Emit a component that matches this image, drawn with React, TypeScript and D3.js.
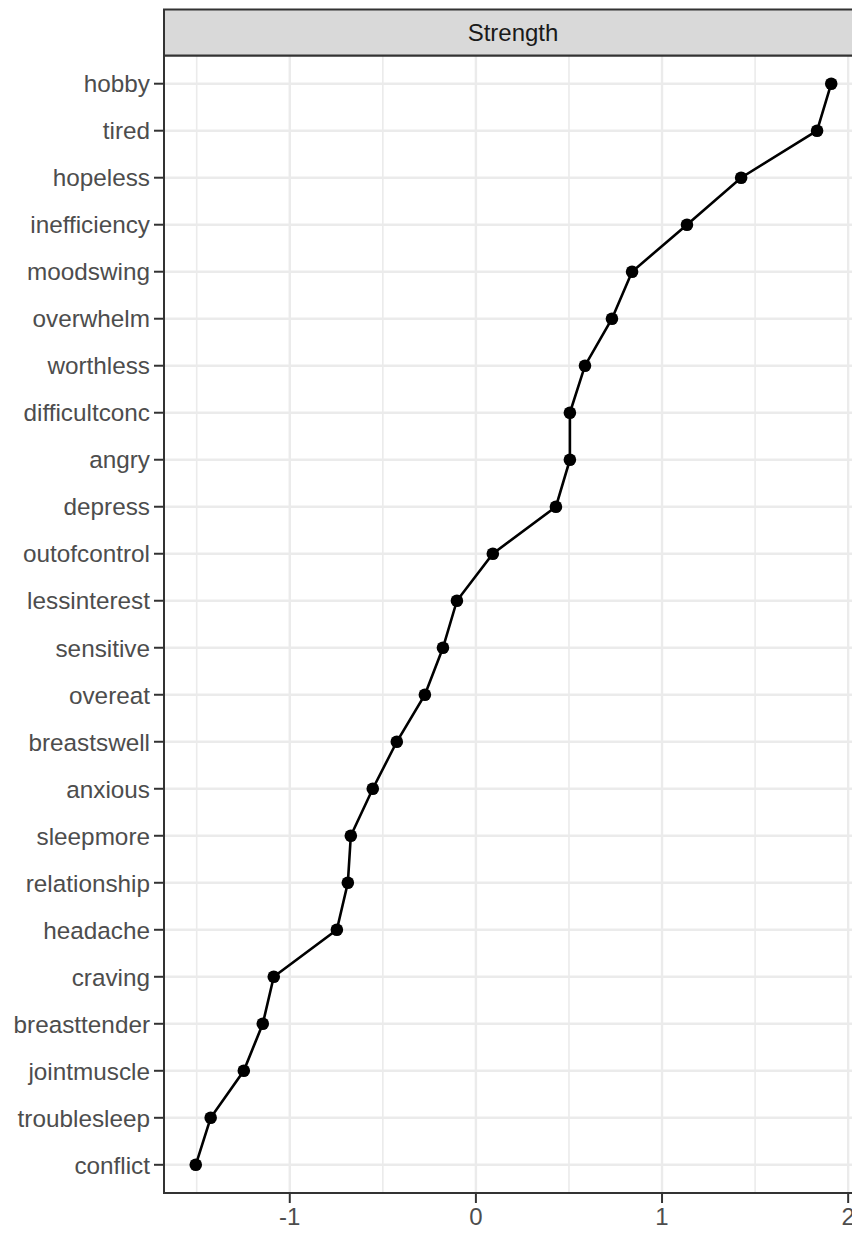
import React from "react";
import * as d3 from "d3";

const categories = [
  "hobby", "tired", "hopeless", "inefficiency", "moodswing", "overwhelm",
  "worthless", "difficultconc", "angry", "depress", "outofcontrol",
  "lessinterest", "sensitive", "overeat", "breastswell", "anxious",
  "sleepmore", "relationship", "headache", "craving", "breasttender",
  "jointmuscle", "troublesleep", "conflict",
];
const values = [
  1.909, 1.833, 1.425, 1.134, 0.839, 0.731, 0.586, 0.505, 0.505, 0.43,
  0.091, -0.102, -0.177, -0.274, -0.425, -0.554, -0.672, -0.688, -0.747,
  -1.086, -1.145, -1.247, -1.425, -1.505,
];
const xTicks = [-1, 0, 1, 2];
const xMinorTicks = [-1.5, -0.5, 0.5, 1.5];
const stripLabel = "Strength";

const W = 852;
const H = 1233;
const panel = { left: 164, right: 863, top: 55.5, bottom: 1193 };
const strip = { top: 9.5, bottom: 55.5 };
const FONT = "'Liberation Sans', Arial, Helvetica, sans-serif";

export default function App() {
  const [mn, mx] = d3.extent(values) as [number, number];
  const pad = (mx - mn) * 0.05;
  const x = d3.scaleLinear().domain([mn - pad, mx + pad]).range([panel.left, panel.right]);
  const y = d3
    .scalePoint<string>()
    .domain(categories)
    .range([panel.top, panel.bottom])
    .padding(0.6);
  const pts = categories.map((c, i) => ({ c, v: values[i] }));
  const line = d3
    .line<{ c: string; v: number }>()
    .x((d) => x(d.v))
    .y((d) => y(d.c) as number);
  const grid = "#EBEBEB";
  const txt = "#4D4D4D";
  return (
    <svg width={W} height={H} style={{ display: "block", position: "absolute", left: 0, top: 0 }}
      fontFamily={FONT}>
      <rect x={0} y={0} width={W} height={H} fill="#fff" />
      <rect x={panel.left} y={panel.top} width={panel.right - panel.left} height={panel.bottom - panel.top} fill="#fff" />
      {xMinorTicks.map((t) => (
        <line key={"m" + t} x1={x(t)} x2={x(t)} y1={panel.top} y2={panel.bottom} stroke={grid} strokeWidth={1.6} />
      ))}
      {xTicks.map((t) => (
        <line key={"M" + t} x1={x(t)} x2={x(t)} y1={panel.top} y2={panel.bottom} stroke={grid} strokeWidth={2.4} />
      ))}
      {categories.map((c) => (
        <line key={"g" + c} x1={panel.left} x2={panel.right} y1={y(c)} y2={y(c)} stroke={grid} strokeWidth={2.4} />
      ))}
      <path d={line(pts) || ""} fill="none" stroke="#000" strokeWidth={2.6} />
      {pts.map((p) => (
        <circle key={"p" + p.c} cx={x(p.v)} cy={y(p.c)} r={6.3} fill="#000" />
      ))}
      <rect x={panel.left} y={panel.top} width={panel.right - panel.left} height={panel.bottom - panel.top}
        fill="none" stroke="#333333" strokeWidth={2} />
      <rect x={panel.left} y={strip.top} width={panel.right - panel.left} height={strip.bottom - strip.top}
        fill="#D9D9D9" stroke="#333333" strokeWidth={2} />
      <text x={513} y={(strip.top + strip.bottom) / 2} dy="0.36em" textAnchor="middle"
        fontSize={24} fill="#1A1A1A">{stripLabel}</text>
      {categories.map((c) => (
        <g key={"t" + c}>
          <line x1={panel.left - 10} x2={panel.left} y1={y(c)} y2={y(c)} stroke="#333333" strokeWidth={2} />
          <text x={panel.left - 14} y={y(c)} dy="0.36em" textAnchor="end" fontSize={24.3} fill={txt}>{c}</text>
        </g>
      ))}
      {xTicks.map((t) => (
        <g key={"x" + t}>
          <line x1={x(t)} x2={x(t)} y1={panel.bottom} y2={panel.bottom + 10} stroke="#333333" strokeWidth={2} />
          <text x={x(t)} y={panel.bottom + 15} dy="0.71em" textAnchor="middle" fontSize={24} fill={txt}>{t}</text>
        </g>
      ))}
    </svg>
  );
}
